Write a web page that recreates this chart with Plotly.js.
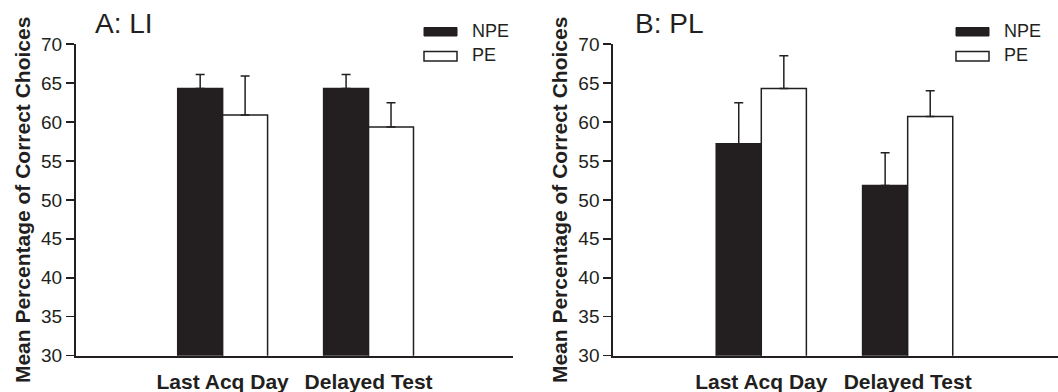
<!DOCTYPE html>
<html>
<head>
<meta charset="utf-8">
<script src="https://cdn.plot.ly/plotly-3.0.1.min.js"></script>
<style>html,body{margin:0;padding:0;background:#fff;}#chart{width:1058px;height:392px;}</style>
</head>
<body>
<div id="chart"></div>
<script>
// ---- data ----
const categories = ["Last Acq Day", "Delayed Test"];
const seriesNames = ["NPE", "PE"];
const panelTitles = ["A: LI", "B: PL"];
const yTitle = "Mean Percentage of Correct Choices";

const liNPE = [64.3, 64.3];
const liNPEerr = [1.8, 1.8];
const liPE = [60.9, 59.35];
const liPEerr = [5.0, 3.1];

const plNPE = [57.2, 51.85];
const plNPEerr = [5.25, 4.2];
const plPE = [64.3, 60.7];
const plPEerr = [4.2, 3.3];

const yTicks = [30, 35, 40, 45, 50, 55, 60, 65, 70];

// ---- style ----
const W = 1058, H = 392;
const ink = "#231f20";
const font = "Liberation Sans, Arial, Helvetica, sans-serif";
const px = v => v / W;
const py = v => 1 - v / H;

function zeros(n){ return new Array(n).fill(0); }

function barTrace(vals, errs, fill, name, xa, ya){
  return {
    type: "bar", x: categories, y: vals, name: name,
    xaxis: xa, yaxis: ya, showlegend: false,
    marker: {color: fill, line: {color: ink, width: 1.5}},
    error_y: {type: "data", symmetric: false, array: errs, arrayminus: zeros(errs.length),
              color: ink, thickness: 1.5, width: 4.5},
    hoverinfo: "y"
  };
}

const data = [
  barTrace(liNPE, liNPEerr, ink, seriesNames[0], "x", "y"),
  barTrace(liPE, liPEerr, "#ffffff", seriesNames[1], "x", "y"),
  barTrace(plNPE, plNPEerr, ink, seriesNames[0], "x2", "y2"),
  barTrace(plPE, plPEerr, "#ffffff", seriesNames[1], "x2", "y2")
];

function yAxis(anchor){
  return {
    anchor: anchor, domain: [36.3 / H, 348 / H],
    range: [30, 70], tickvals: yTicks, ticktext: yTicks.map(String),
    ticks: "outside", ticklen: 8, tickwidth: 1.5, tickcolor: ink,
    showline: true, linewidth: 2, linecolor: ink, showgrid: false, zeroline: false,
    tickfont: {family: font, size: 19, color: ink},
    title: {text: yTitle, font: {family: font, size: 21, color: ink, weight: "bold"}, standoff: 5}
  };
}
function xAxis(anchor, dom, rng){
  return {
    anchor: anchor, domain: dom, range: rng, type: "category",
    showline: true, linewidth: 2, linecolor: ink, ticks: "", showgrid: false, zeroline: false,
    ticklabelstandoff: 6,
    tickfont: {family: font, size: 21, color: ink, weight: "bold"}
  };
}

// custom legend swatches
const shapes = [];
const annotations = [];
const legendX = [424, 956];
const textX = [470, 1001.7];
for (let p = 0; p < 2; p++){
  shapes.push({type: "rect", xref: "paper", yref: "paper",
    x0: px(legendX[p]), x1: px(legendX[p] + 33), y0: py(36), y1: py(27.5),
    fillcolor: ink, line: {color: ink, width: 1}});
  shapes.push({type: "rect", xref: "paper", yref: "paper",
    x0: px(legendX[p]), x1: px(legendX[p] + 33), y0: py(61), y1: py(51.5),
    fillcolor: "#ffffff", line: {color: ink, width: 1.5}});
  annotations.push({xref: "paper", yref: "paper", x: px(textX[p]), y: py(31), xanchor: "left", yanchor: "middle",
    text: seriesNames[0], showarrow: false, font: {family: font, size: 18, color: ink}});
  annotations.push({xref: "paper", yref: "paper", x: px(textX[p]), y: py(55), xanchor: "left", yanchor: "middle",
    text: seriesNames[1], showarrow: false, font: {family: font, size: 18, color: ink}});
}
const titleX = [93, 633];
for (let p = 0; p < 2; p++){
  annotations.push({xref: "paper", yref: "paper", x: px(titleX[p]), y: py(24), xanchor: "left", yanchor: "middle",
    text: panelTitles[p], showarrow: false, font: {family: font, size: 28, color: ink}});
}

const layout = {
  width: W, height: H, margin: {l: 0, r: 0, t: 0, b: 0},
  paper_bgcolor: "#ffffff", plot_bgcolor: "#ffffff",
  barmode: "group", bargap: 0.384, bargroupgap: 0,
  xaxis: xAxis("y", [76 / W, 513 / W], [-1.005, 1.99]),
  yaxis: yAxis("x"),
  xaxis2: xAxis("y2", [613.3 / W, 1], [-1.011, 2.027]),
  yaxis2: yAxis("x2"),
  shapes: shapes, annotations: annotations,
  font: {family: font, color: ink}
};

Plotly.newPlot("chart", data, layout, {staticPlot: true, displayModeBar: false});
</script>
</body>
</html>
